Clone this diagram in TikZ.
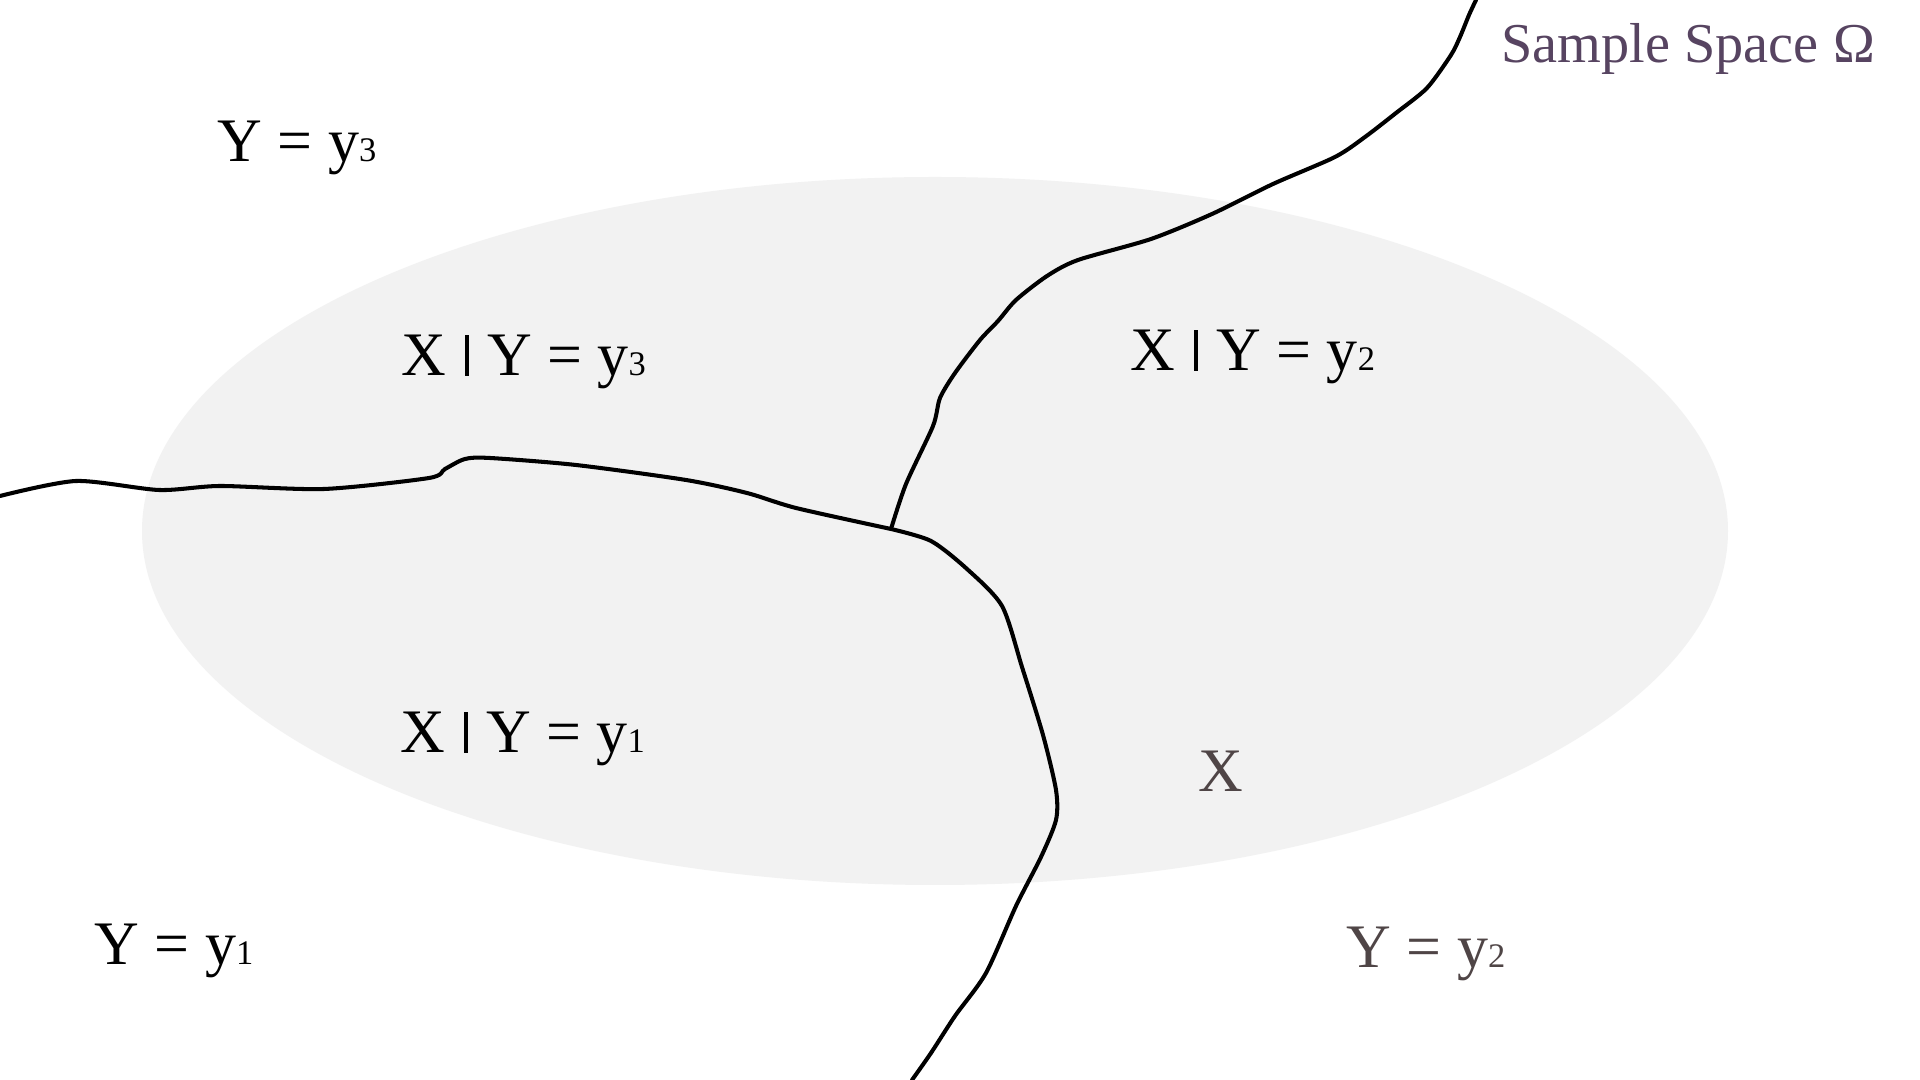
\documentclass[tikz,border=0pt]{standalone}
\usepackage{fontspec}
\setmainfont{Liberation Serif}
\usepackage{xcolor}
\usepackage{tikz}

\definecolor{regionfill}{HTML}{F2F2F2}
\definecolor{omegapurple}{HTML}{574461}
\definecolor{darkbrown}{HTML}{4F4546}

% small digit on the baseline, as in the drawing
\newcommand{\idx}[1]{{\fontsize{9.8}{10}\selectfont #1}}
\newcommand{\given}{\hspace{0.05em}\rule{0.06em}{0.66em}\hspace{0.05em}}

\begin{document}
\begin{tikzpicture}[
    x=0.01cm, y=-0.01cm,
    lbl/.style={anchor=base west, inner sep=0pt,
                font=\fontsize{17.6}{20}\selectfont},
    border/.style={line width=1.15pt, line join=round, line cap=round}
]
\useasboundingbox[fill=white] (0,0) rectangle (1920,1080);

% X as the grey region
\fill[regionfill] (935,531) ellipse [x radius=793, y radius=354];

% borders between the events Y = y_i
\coordinate (meet) at (891,529);
\draw[border] plot[smooth, tension=0.45] coordinates {
    (0,496) (76,481) (159,490) (220,486) (324,489) (429,478)
    (445,469) (465,459) (490,458) (576,465) (686,480) (747,493)
    (796,508) (891,529)}
  -- plot[smooth, tension=0.45] coordinates {
    (891,529) (931,541) (967,569) (1002,606) (1022,667) (1043,735)
    (1056,790) (1056,820) (1041,857) (1016,906) (986,973)
    (955,1016) (931,1053) (912,1080)};
\draw[border] plot[smooth, tension=0.45] coordinates {
    (891,529) (906,484) (933,426) (940,398) (955,373) (980,340)
    (998,321) (1016,300) (1047,276) (1078,260) (1151,239)
    (1212,214) (1273,184) (1335,157) (1365,137) (1396,113)
    (1427,88) (1451,55) (1460,37) (1469,15) (1476,0)};

\node[lbl, font=\fontsize{16}{18}\selectfont, text=omegapurple]
    (omega) at (1501,63) {Sample Space Ω};

\node[lbl] (y3)   at (217,162) {Y = y\idx{3}};
\node[lbl] (xy3)  at (401,376) {X \given{} Y = y\idx{3}};
\node[lbl] (xy2)  at (1130,371) {X \given{} Y = y\idx{2}};
\node[lbl] (xy1)  at (400,753) {X \given{} Y = y\idx{1}};
\node[lbl, text=darkbrown] (xlbl) at (1198,792) {X};
\node[lbl] (y1)   at (94,965) {Y = y\idx{1}};
\node[lbl, text=darkbrown] (y2) at (1346,968) {Y = y\idx{2}};
\end{tikzpicture}
\end{document}
